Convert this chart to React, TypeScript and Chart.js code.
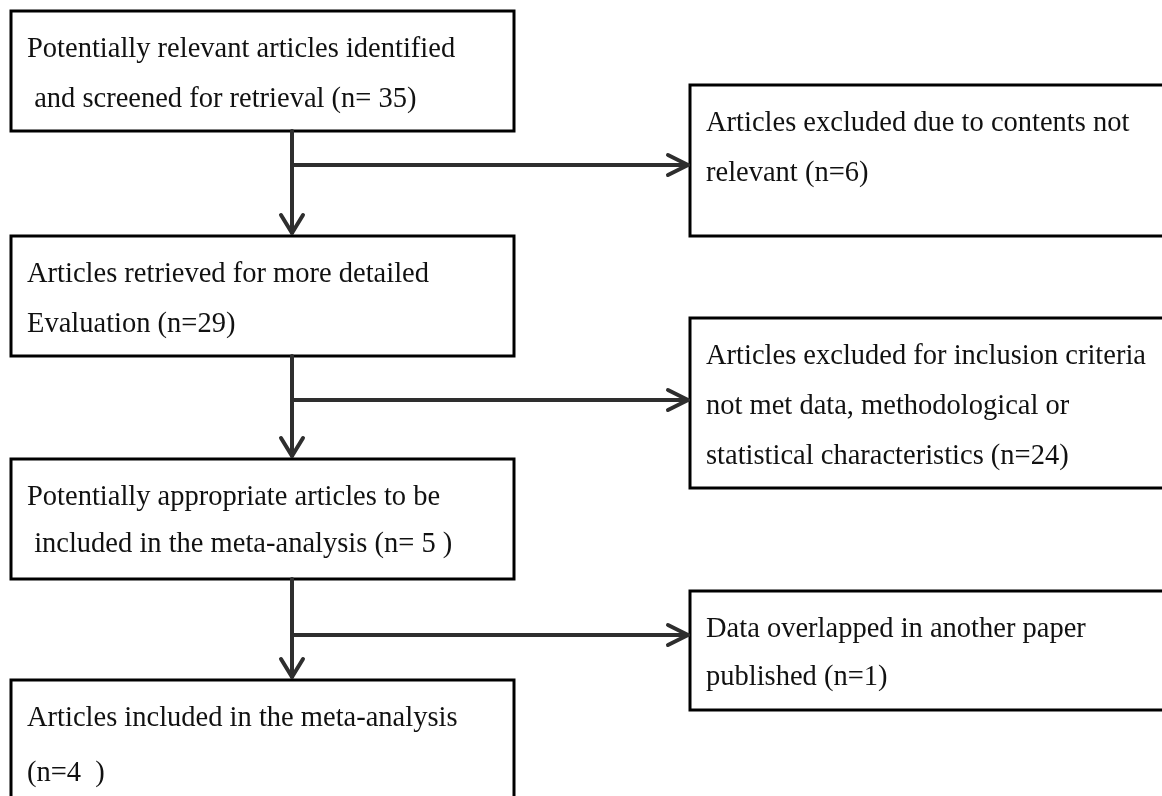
import React, { useEffect, useRef } from "react";
import { Chart, registerables } from "chart.js";

Chart.register(...registerables);

// ---- Data ----
const stageLines: string[][] = [
  ["Potentially relevant articles identified", " and screened for retrieval (n= {n})"],
  ["Articles retrieved for more detailed", "Evaluation (n={n})"],
  ["Potentially appropriate articles to be", " included in the meta-analysis (n= {n} )"],
  ["Articles included in the meta-analysis", "(n={n}  )"],
];
const stageCounts = [35, 29, 5, 4];

const exclusionLines: string[][] = [
  ["Articles excluded due to contents not", "relevant (n={n})"],
  ["Articles excluded for inclusion criteria", "not met data, methodological or", "statistical characteristics (n={n})"],
  ["Data overlapped in another paper", "published (n={n})"],
];
const exclusionCounts = [6, 24, 1];

// ---- Layout (diagram geometry in axis units) ----
const W = 1162;
const H = 796;
const stageLeft = 11;
const stageRight = 514;
const stageTop = [11, 236, 459, 680];
const stageBottom = [131, 356, 579, 830];
const stageLineGap = [50, 50, 47, 55];
const exclLeft = 690;
const exclRight = 1180;
const exclTop = [85, 318, 591];
const exclBottom = [236, 488, 710];
const exclLineGap = [50, 50, 48];
const connectorX = 292;
const branchY = [165, 400, 635];

const FONT = '28.5px "Liberation Serif", "Times New Roman", serif';

const flowPlugin = {
  id: "flow",
  afterDraw(chart: any) {
    const ctx: CanvasRenderingContext2D = chart.ctx;
    const sx = chart.scales.x;
    const sy = chart.scales.y;
    const px = (v: number) => sx.getPixelForValue(v);
    const py = (v: number) => sy.getPixelForValue(v);

    ctx.save();
    // boxes
    const drawBox = (l: number, t: number, r: number, b: number) => {
      ctx.strokeStyle = "#000";
      ctx.lineWidth = 3;
      ctx.strokeRect(px(l), py(t), px(r) - px(l), py(b) - py(t));
    };
    const drawText = (lines: string[], n: number, l: number, t: number, gap: number) => {
      ctx.fillStyle = "#111";
      ctx.font = FONT;
      ctx.textBaseline = "alphabetic";
      ctx.textAlign = "left";
      lines.forEach((s, i) => {
        ctx.fillText(s.replace("{n}", String(n)), px(l + 16), py(t + 46 + i * gap));
      });
    };
    stageLines.forEach((lines, i) => {
      drawBox(stageLeft, stageTop[i], stageRight, stageBottom[i]);
      drawText(lines, stageCounts[i], stageLeft, stageTop[i], stageLineGap[i]);
    });
    exclusionLines.forEach((lines, i) => {
      drawBox(exclLeft, exclTop[i], exclRight, exclBottom[i]);
      drawText(lines, exclusionCounts[i], exclLeft, exclTop[i], exclLineGap[i]);
    });

    // connectors
    ctx.strokeStyle = "#2e2e2e";
    ctx.lineWidth = 4;
    ctx.lineCap = "round";
    ctx.lineJoin = "round";
    branchY.forEach((by, i) => {
      const y0 = stageBottom[i];
      const y1 = stageTop[i + 1] - 3;
      ctx.beginPath();
      ctx.moveTo(px(connectorX), py(y0));
      ctx.lineTo(px(connectorX), py(y1));
      ctx.stroke();
      // down chevron
      ctx.beginPath();
      ctx.moveTo(px(connectorX - 11), py(y1 - 18));
      ctx.lineTo(px(connectorX), py(y1));
      ctx.lineTo(px(connectorX + 11), py(y1 - 18));
      ctx.stroke();
      // branch
      const x1 = exclLeft - 2;
      ctx.beginPath();
      ctx.moveTo(px(connectorX), py(by));
      ctx.lineTo(px(x1), py(by));
      ctx.stroke();
      ctx.beginPath();
      ctx.moveTo(px(x1 - 20), py(by - 10));
      ctx.lineTo(px(x1), py(by));
      ctx.lineTo(px(x1 - 20), py(by + 10));
      ctx.stroke();
    });
    ctx.restore();
  },
};

export default function App() {
  const ref = useRef<HTMLCanvasElement | null>(null);
  useEffect(() => {
    document.body.style.margin = "0";
    document.body.style.background = "#fff";
    if (!ref.current) return;
    const chart = new Chart(ref.current, {
      type: "scatter",
      data: { datasets: [{ data: [], pointRadius: 0 }] },
      options: {
        animation: false,
        responsive: false,
        maintainAspectRatio: false,
        layout: { padding: 0 },
        plugins: { legend: { display: false }, tooltip: { enabled: false } },
        scales: {
          x: { type: "linear", min: 0, max: W, display: false },
          y: { type: "linear", min: 0, max: H, reverse: true, display: false },
        },
      },
      plugins: [flowPlugin],
    });
    return () => chart.destroy();
  }, []);
  return (
    <div style={{ position: "absolute", left: 0, top: 0, width: W, height: H, background: "#fff", overflow: "hidden" }}>
      <canvas ref={ref} width={W} height={H} style={{ width: W, height: H, display: "block" }} />
    </div>
  );
}
